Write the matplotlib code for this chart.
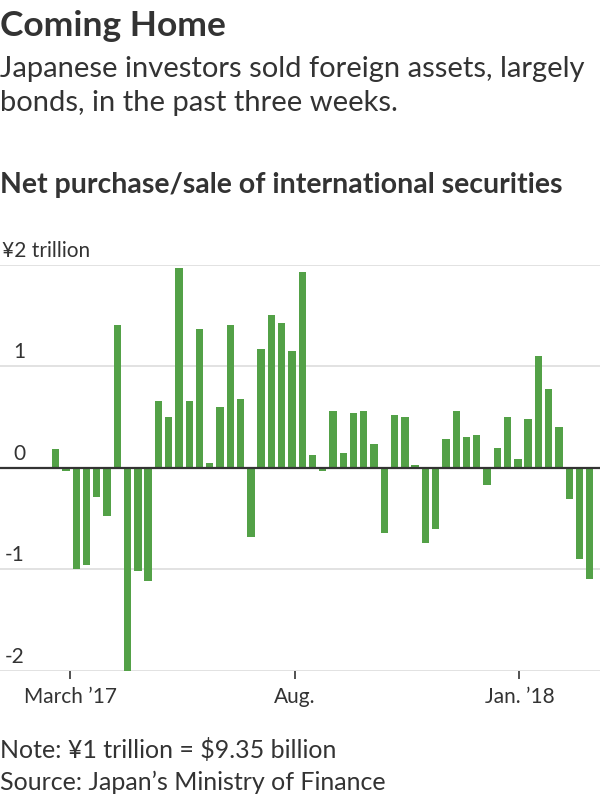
import datetime as dt

import matplotlib
matplotlib.use("Agg")
import matplotlib.pyplot as plt
import matplotlib.transforms as mtransforms

# weekly net purchase (+) / sale (-) of foreign securities, trillion yen
first_week = dt.date(2017, 2, 19)
values = [0.19, -0.03, -1.00, -0.96, -0.29, -0.47, 1.41, -2.00, -1.02, -1.12,
          0.66, 0.50, 1.97, 0.66, 1.37, 0.05, 0.60, 1.41, 0.68, -0.68,
          1.17, 1.51, 1.43, 1.15, 1.93, 0.13, -0.03, 0.56, 0.15, 0.54,
          0.56, 0.24, -0.64, 0.52, 0.50, 0.03, -0.74, -0.60, 0.28, 0.56,
          0.30, 0.32, -0.17, 0.20, 0.50, 0.09, 0.48, 1.10, 0.78, 0.40,
          -0.31, -0.90, -1.10]
weeks = [first_week + dt.timedelta(weeks=i) for i in range(len(values))]

y_ticks = [-2, -1, 0, 1, 2]
y_labels = ["-2", "-1", "0", "1", "¥2 trillion"]
x_ticks = [dt.date(2017, 3, 1), dt.date(2017, 8, 1), dt.date(2018, 1, 1)]
x_labels = ["March \u201917", "Aug.", "Jan. \u201918"]

title = "Coming Home"
subtitle = ["Japanese investors sold foreign assets, largely",
            "bonds, in the past three weeks."]
chart_title = "Net purchase/sale of international securities"
note = "Note: ¥1 trillion = $9.35 billion"
source = "Source: Japan\u2019s Ministry of Finance"

plt.rcParams["font.family"] = ["Lato", "DejaVu Sans"]
txt = "#333333"
green = "#53a147"

W, H = 600, 800
fig = plt.figure(figsize=(6, 8), dpi=100)


def fy(px):
    return 1 - px / H


ax = fig.add_axes([0, fy(670.7), 1, (670.7 - 265) / H])
ax.bar(weeks, values, width=5, color=green, zorder=2)

ax.set_ylim(-2, 2)
ax.set_xlim(dt.date(2017, 1, 12), dt.date(2018, 2, 25))
for s in ax.spines.values():
    s.set_visible(False)

for y in y_ticks:
    if y == 0:
        ax.axhline(0, color=txt, lw=1.6, zorder=3)
    else:
        ax.axhline(y, color="#dddddd", lw=1.2, zorder=1)

ax.set_yticks([])
trans = mtransforms.blended_transform_factory(fig.transFigure, ax.transData)
for y, lab in zip(y_ticks, y_labels):
    if y == 2:
        ax.text(2 / W, y + 0.04, lab, transform=trans, ha="left", va="bottom",
                fontsize=15, color=txt)
    else:
        ax.text(25 / W, y + 0.04, lab, transform=trans, ha="right", va="bottom",
                fontsize=15, color=txt)

ax.set_xticks(x_ticks)
ax.set_xticklabels(x_labels)
ax.tick_params(axis="x", length=6, width=1.2, color=txt, labelcolor=txt,
               labelsize=15, pad=6)

fig.text(0, fy(36), title, fontsize=25.5, fontweight="bold", color=txt,
         va="baseline", ha="left")
fig.text(0, fy(77), subtitle[0], fontsize=21, color=txt, va="baseline")
fig.text(0, fy(111.5), subtitle[1], fontsize=21, color=txt, va="baseline")
fig.text(0, fy(193), chart_title, fontsize=20.5, fontweight="bold", color=txt,
         va="baseline")
fig.text(0, fy(758), note, fontsize=18, color=txt, va="baseline")
fig.text(0, fy(790), source, fontsize=18, color=txt, va="baseline")

fig.savefig("out.png", dpi=100)
